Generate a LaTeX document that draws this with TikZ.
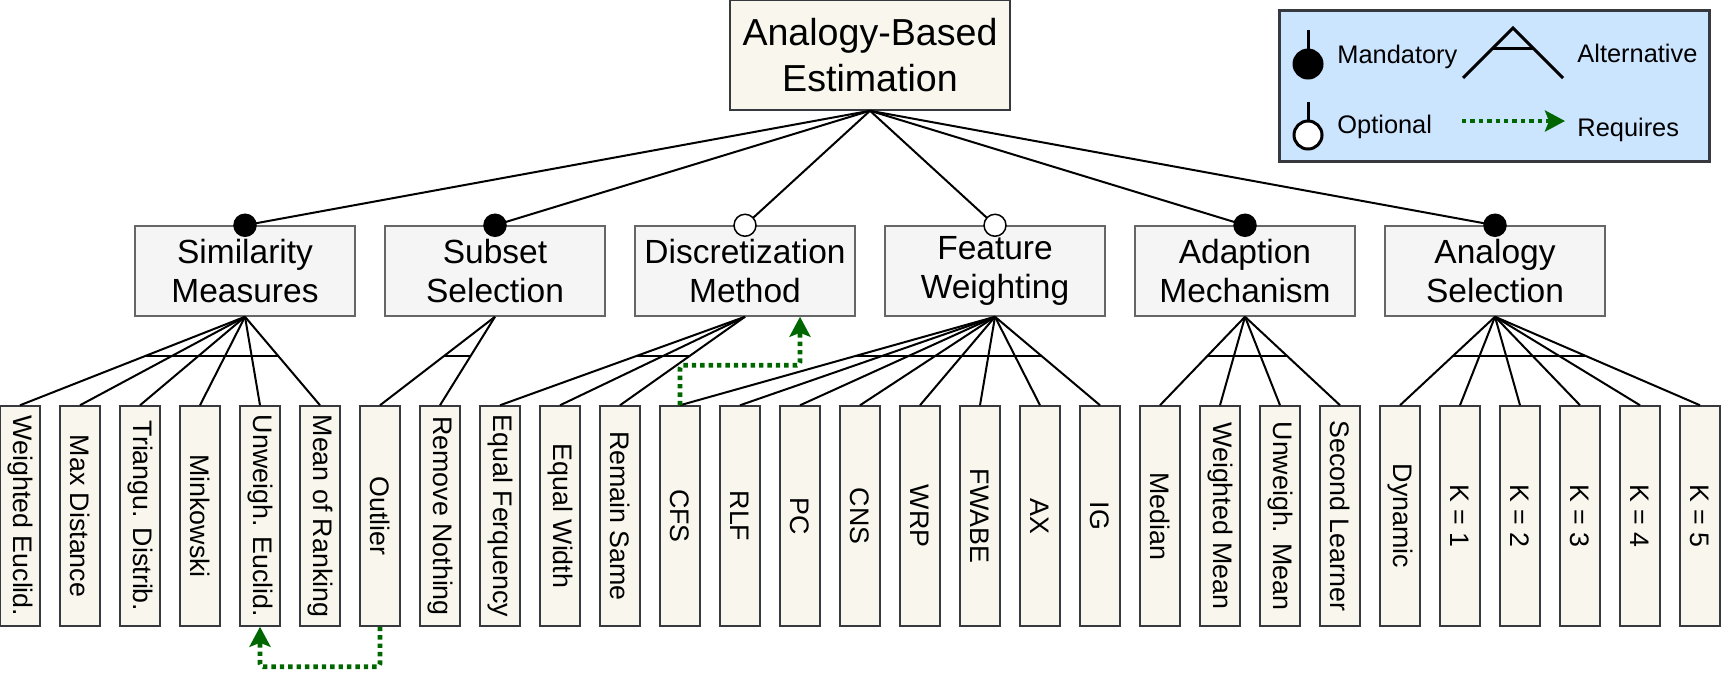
\documentclass[tikz,border=0pt]{standalone}
\usepackage{fontspec}
\setmainfont{Liberation Sans}
\usetikzlibrary{arrows.meta,calc}

\definecolor{leafbg}{HTML}{F9F7ED}
\definecolor{leafline}{HTML}{36393D}
\definecolor{featbg}{HTML}{F5F5F5}
\definecolor{featline}{HTML}{666666}
\definecolor{legbg}{HTML}{CCE5FF}
\definecolor{reqgreen}{HTML}{006600}

\tikzset{
  rootbox/.style={draw=leafline,fill=leafbg,line width=0.75pt,minimum width=140pt,minimum height=55pt,inner sep=0pt,align=center,font=\fontsize{18.8}{23}\selectfont},
  featbox/.style={draw=featline,fill=featbg,line width=0.75pt,minimum width=110pt,minimum height=45pt,inner sep=0pt,align=center,font=\fontsize{16.75}{19.5}\selectfont},
  leafbox/.style={draw=leafline,fill=leafbg,line width=0.75pt,rotate=-90,minimum width=110pt,minimum height=20pt,inner sep=0pt,font=\fontsize{13.4}{16}\selectfont},
  edge/.style={black,line width=1pt},
  req/.style={reqgreen,line width=2.3pt,dash pattern=on 2.2pt off 2pt,rounded corners=1.5pt,-{Stealth[length=10pt,width=10.5pt,inset=2pt]}},
  legtext/.style={anchor=base west,inner sep=0pt,font=\fontsize{12.7}{15}\selectfont}
}

\begin{document}
\begin{tikzpicture}[x=0.5pt,y=-0.5pt]
  \useasboundingbox (0,0) rectangle (1723,677);
  \pgfmathsetmacro\fr{4/9}

% root
  \node[rootbox] (root) at (870,55) {Analogy-Based\\Estimation};

% features
  \foreach \txt [count=\k from 0] in {{Similarity\\Measures},{Subset\\Selection},{Discretization\\Method},{Feature\\Weighting},{Adaption\\Mechanism},{Analogy\\Selection}} {
      \node[featbox] (m\k) at ({245+250*\k},271) {\txt};
  }

% leaves
  \foreach \lbl [count=\i from 0] in {Weighted Euclid.,Max Distance,Triangu. Distrib.,Minkowski,Unweigh. Euclid.,Mean of Ranking,Outlier,Remove Nothing,Equal Ferquency,Equal Width,Remain Same,CFS,RLF,PC,CNS,WRP,FWABE,AX,IG,Median,Weighted Mean,Unweigh. Mean,Second Learner,Dynamic,K = 1,K = 2,K = 3,K = 4,K = 5} {
      \node[leafbox] (l\i) at ({20+60*\i},516) {\lbl};
  }

% root -> features: mandatory / optional
  \foreach \k/\fillc in {0/black,1/black,2/white,3/white,4/black,5/black} {
      \draw[edge] (root.south) -- (m\k.north);
      \filldraw[fill=\fillc,draw=black,line width=0.75pt] (m\k.north) circle (5.5pt);
  }

% features -> leaves: alternative groups
  \foreach \k/\a/\b in {0/0/5,1/6/7,2/8/10,3/11/18,4/19/22,5/23/28} {
      \foreach \i in {\a,...,\b} {
          \draw[edge] (m\k.south) -- (l\i.west);
      }
      \draw[edge] ($(m\k.south)!\fr!(l\a.west)$) -- ($(m\k.south)!\fr!(l\b.west)$);
  }

% requires
  \coordinate (dreq) at ($(m2.south)+(55,0)$);
  \draw[req] (l6.east) -- ++(0,40) -| (l4.east);
  \draw[req] (l11.west) -- ++(0,-40) -| (dreq);

% legend
  \node[draw=leafline,fill=legbg,line width=1.5pt,minimum width=215pt,minimum height=75.5pt,inner sep=0pt] (legend) at (1494.5,85.5) {};
  \draw[black,line width=1.5pt] (1308,30) -- (1308,50);
  \filldraw[black,line width=1.5pt] (1308,64) circle (7pt);
  \node[legtext] (lmand) at (1337,63) {Mandatory};
  \draw[black,line width=1.5pt] (1308,102) -- (1308,121);
  \filldraw[fill=white,draw=black,line width=1.5pt] (1308,135) circle (7pt);
  \node[legtext] (lopt) at (1337,133) {Optional};
  \draw[black,line width=1.5pt] (1463,78) -- (1513,28) -- (1563,78);
  \draw[black,line width=1.5pt] (1493,48) -- (1533,48);
  \node[legtext] (lalt) at (1577,62) {Alternative};
  \coordinate (rq1) at (1462,121);
  \coordinate (rq2) at (1565,121);
  \draw[req] (rq1) -- (rq2);
  \node[legtext] (lreq) at (1577,136) {Requires};

\end{tikzpicture}
\end{document}
